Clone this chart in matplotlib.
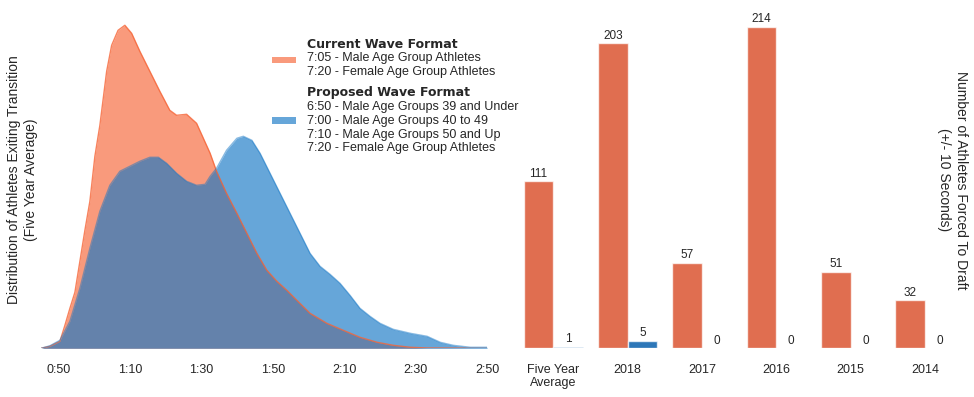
import numpy as np
import matplotlib
matplotlib.use("Agg")
import matplotlib.pyplot as plt
import matplotlib.patches as mpatches
from matplotlib.ticker import FuncFormatter

plt.rcParams['font.family'] = ['Liberation Sans', 'DejaVu Sans']
plt.rcParams['text.color'] = '0.15'

# transition exit time (seconds) vs relative density
current_t = [45, 47.5, 50.3, 51.7, 53.1, 54.5, 55.9, 57.3, 58.7, 60.1, 61.5, 63.4,
             64.8, 66.6, 68.5, 70.4, 72.7, 75.5, 78.3, 81.1, 83.0, 85.8, 88.6,
             92.4, 94.2, 97.0, 99.9, 102.7, 105.5, 108.3, 111.1, 113.9, 116.7,
             120.4, 125.1, 129.7, 134.4, 139.2, 143.7, 148.5, 153.2, 170]
current_d = [0, 0.02, 0.07, 0.23, 0.40, 0.56, 0.87, 1.18, 1.47, 1.92, 2.23, 2.77,
             3.03, 3.18, 3.23, 3.15, 2.97, 2.77, 2.57, 2.38, 2.33, 2.34, 2.25,
             1.95, 1.77, 1.55, 1.35, 1.15, 0.95, 0.78, 0.67, 0.58, 0.48,
             0.35, 0.25, 0.18, 0.11, 0.06, 0.03, 0.01, 0.003, 0]

proposed_t = [45, 47.5, 50.3, 53.1, 55.9, 58.7, 61.5, 64.3, 67.1, 69.9, 72.7, 75.5,
              77.9, 80.2, 83.0, 85.8, 88.6, 91.0, 92.4, 94.2, 97.0, 99.9, 101.7,
              104.1, 106.4, 109.2, 112.0, 114.8, 117.6, 120.4, 123.2, 126.0, 128.8,
              131.6, 134.4, 137.2, 140.0, 143.7, 148.5, 153.2, 156.9, 160.5, 165.3, 170]
proposed_d = [0, 0.025, 0.08, 0.27, 0.60, 1.00, 1.37, 1.63, 1.77, 1.82, 1.87, 1.91,
              1.91, 1.85, 1.75, 1.67, 1.63, 1.64, 1.72, 1.80, 1.98, 2.10, 2.12,
              2.08, 1.95, 1.75, 1.55, 1.35, 1.15, 0.95, 0.82, 0.74, 0.65,
              0.53, 0.40, 0.32, 0.25, 0.19, 0.15, 0.12, 0.06, 0.03, 0.01, 0.01]

time_ticks = [50, 70, 90, 110, 130, 150, 170]

# athletes forced to draft
years = ['Five Year\nAverage', '2018', '2017', '2016', '2015', '2014']
draft_current = [111, 203, 57, 214, 51, 32]
draft_proposed = [1, 5, 0, 0, 0, 0]

current_label = ['7:05 - Male Age Group Athletes',
                 '7:20 - Female Age Group Athletes']
proposed_label = ['6:50 - Male Age Groups 39 and Under',
                  '7:00 - Male Age Groups 40 to 49',
                  '7:10 - Male Age Groups 50 and Up',
                  '7:20 - Female Age Group Athletes']

orange = '#f66436'
blue = '#1476c5'
bar_orange = '#e06e50'
bar_blue = '#2d77b8'

fig = plt.figure(figsize=(9.74, 3.97), dpi=100)
ax1 = fig.add_axes([0.0421, 0.1227, 0.4579, 0.8388])
ax2 = fig.add_axes([0.5299, 0.1227, 0.4579, 0.8388])

# left: distributions
ax1.fill_between(current_t, current_d, color=orange, alpha=0.65, lw=0)
ax1.plot(current_t, current_d, color=orange, alpha=0.8, lw=1, solid_joinstyle='round')
ax1.fill_between(proposed_t, proposed_d, color=blue, alpha=0.65, lw=0)
ax1.plot(proposed_t, proposed_d, color=blue, alpha=0.5, lw=1, solid_joinstyle='round')
ax1.set_xlim(45, 170)
ax1.set_ylim(0, 3.33)
ax1.set_xticks(time_ticks)
ax1.xaxis.set_major_formatter(FuncFormatter(lambda v, p: '%d:%02d' % (v // 60, v % 60)))
ax1.set_yticks([])

# right: bars
x = np.arange(len(years))
b1 = ax2.bar(x - 0.2, draft_current, 0.4, color=bar_orange, edgecolor=(1, 1, 1, 0.7), lw=1)
b2 = ax2.bar(x + 0.2, draft_proposed, 0.4, color=bar_blue, edgecolor=(1, 1, 1, 0.7), lw=1)
ax2.bar_label(b1, padding=1, fontsize=8.5)
ax2.bar_label(b2, padding=1, fontsize=8.5)
ax2.set_xlim(-0.5, 5.5)
ax2.set_ylim(0, 221.6)
ax2.set_xticks(x)
ax2.set_xticklabels(years)
ax2.set_yticks([])

for ax in (ax1, ax2):
    for s in ax.spines.values():
        s.set_visible(False)
    ax.tick_params(axis='x', length=0, pad=11, labelsize=9, labelcolor='0.15')
    ax.set_facecolor('white')

fig.text(22.5 / 974, 1 - 180 / 397,
         'Distribution of Athletes Exiting Transition\n(Five Year Average)',
         rotation=90, ha='center', va='center', fontsize=10, multialignment='center')
fig.text(952.5 / 974, 1 - 180 / 397,
         'Number of Athletes Forced To Draft\n(+/- 10 Seconds)',
         rotation=270, ha='center', va='center', fontsize=10, multialignment='center')

# legend drawn by hand
def fy(py):
    return 1 - py / 397

tx = 307 / 974
fig.text(tx, fy(44), 'Current Wave Format', family='DejaVu Sans', weight='bold',
         fontsize=9, va='center')
for i, s in enumerate(current_label):
    fig.text(tx, fy(58.3 + 14 * i), s, fontsize=9, va='center')
fig.text(tx, fy(92.7), 'Proposed Wave Format', family='DejaVu Sans', weight='bold',
         fontsize=9, va='center')
for i, s in enumerate(proposed_label):
    fig.text(tx, fy(107.3 + 13.7 * i), s, fontsize=9, va='center')

fig.patches.append(mpatches.Rectangle((271.7 / 974, fy(63.3)), 24 / 974, 6.6 / 397,
                                      transform=fig.transFigure, color=orange, alpha=0.65, lw=0))
fig.patches.append(mpatches.Rectangle((271.7 / 974, fy(124)), 24 / 974, 6.6 / 397,
                                      transform=fig.transFigure, color=blue, alpha=0.65, lw=0))

fig.savefig('out.png', dpi=100)
